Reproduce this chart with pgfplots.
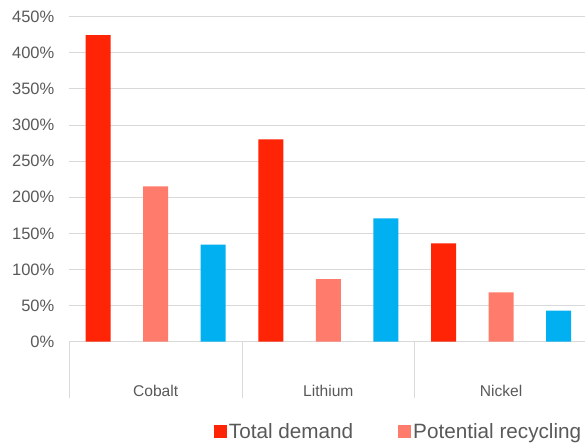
\documentclass[border=0pt]{standalone}
\usepackage{fontspec}
\setmainfont{Liberation Sans}
\usepackage{pgfplots}
\pgfplotsset{compat=1.18}
\definecolor{cred}{HTML}{FF2405}
\definecolor{csalmon}{HTML}{FF7B6B}
\definecolor{cblue}{HTML}{00B0F0}
\definecolor{axgray}{HTML}{D9D9D9}
\definecolor{txt}{HTML}{595959}
\begin{document}
\begin{tikzpicture}
\useasboundingbox (0,0) rectangle (585bp,443bp);
\begin{axis}[
 at={(69.3bp,101.3bp)}, anchor=south west,
 scale only axis, width=518.1bp, height=325bp,
 xmin=-0.5, xmax=2.5, ymin=0, ymax=450,
 axis x line*=bottom, axis y line*=left,
 x axis line style={draw=axgray, line width=1bp, -},
 y axis line style={draw=none},
 ytick={0,50,...,450},
 yticklabels={0\%,50\%,100\%,150\%,200\%,250\%,300\%,350\%,400\%,450\%},
 ytick style={draw=none},
 yticklabel style={font=\fontsize{16.5bp}{18bp}\selectfont, text=txt, xshift=-11.5bp},
 ymajorgrids, major grid style={draw=axgray, line width=1bp},
 xtick={0,1,2},
 xticklabels={Cobalt,Lithium,Nickel},
 xtick style={draw=none},
 xticklabel style={font=\fontsize{15.6bp}{17bp}\selectfont, text=txt, yshift=-40bp},
 extra x ticks={-0.5,0.5,1.5,2.5},
 extra x tick labels={},
 extra x tick style={xtick style={draw=axgray, line width=1bp}, major tick length=56bp, tick align=outside},
 legend style={draw=none, fill=none, legend columns=-1,
   font=\fontsize{20.7bp}{22bp}\selectfont, text=txt,
   at={(rel axis cs:0,0)}, anchor=west, xshift=141.5bp, yshift=-89.7bp,
   /tikz/every even column/.append style={column sep=43bp}},
 legend image code/.code={\fill[#1] (0bp,-6.5bp) rectangle (13bp,6.5bp);},
]
\addplot[ybar, bar width=25bp, bar shift=-57.5bp, fill=cred, draw=none] coordinates {(0,424.5) (1,280) (2,136)};
\addplot[ybar, bar width=25bp, bar shift=0bp, fill=csalmon, draw=none] coordinates {(0,215) (1,86.8) (2,68.4)};
\addplot[ybar, bar width=25bp, bar shift=57.5bp, fill=cblue, draw=none] coordinates {(0,134.3) (1,170.8) (2,43)};
\legend{Total demand, Potential recycling}
\end{axis}
\end{tikzpicture}
\end{document}
